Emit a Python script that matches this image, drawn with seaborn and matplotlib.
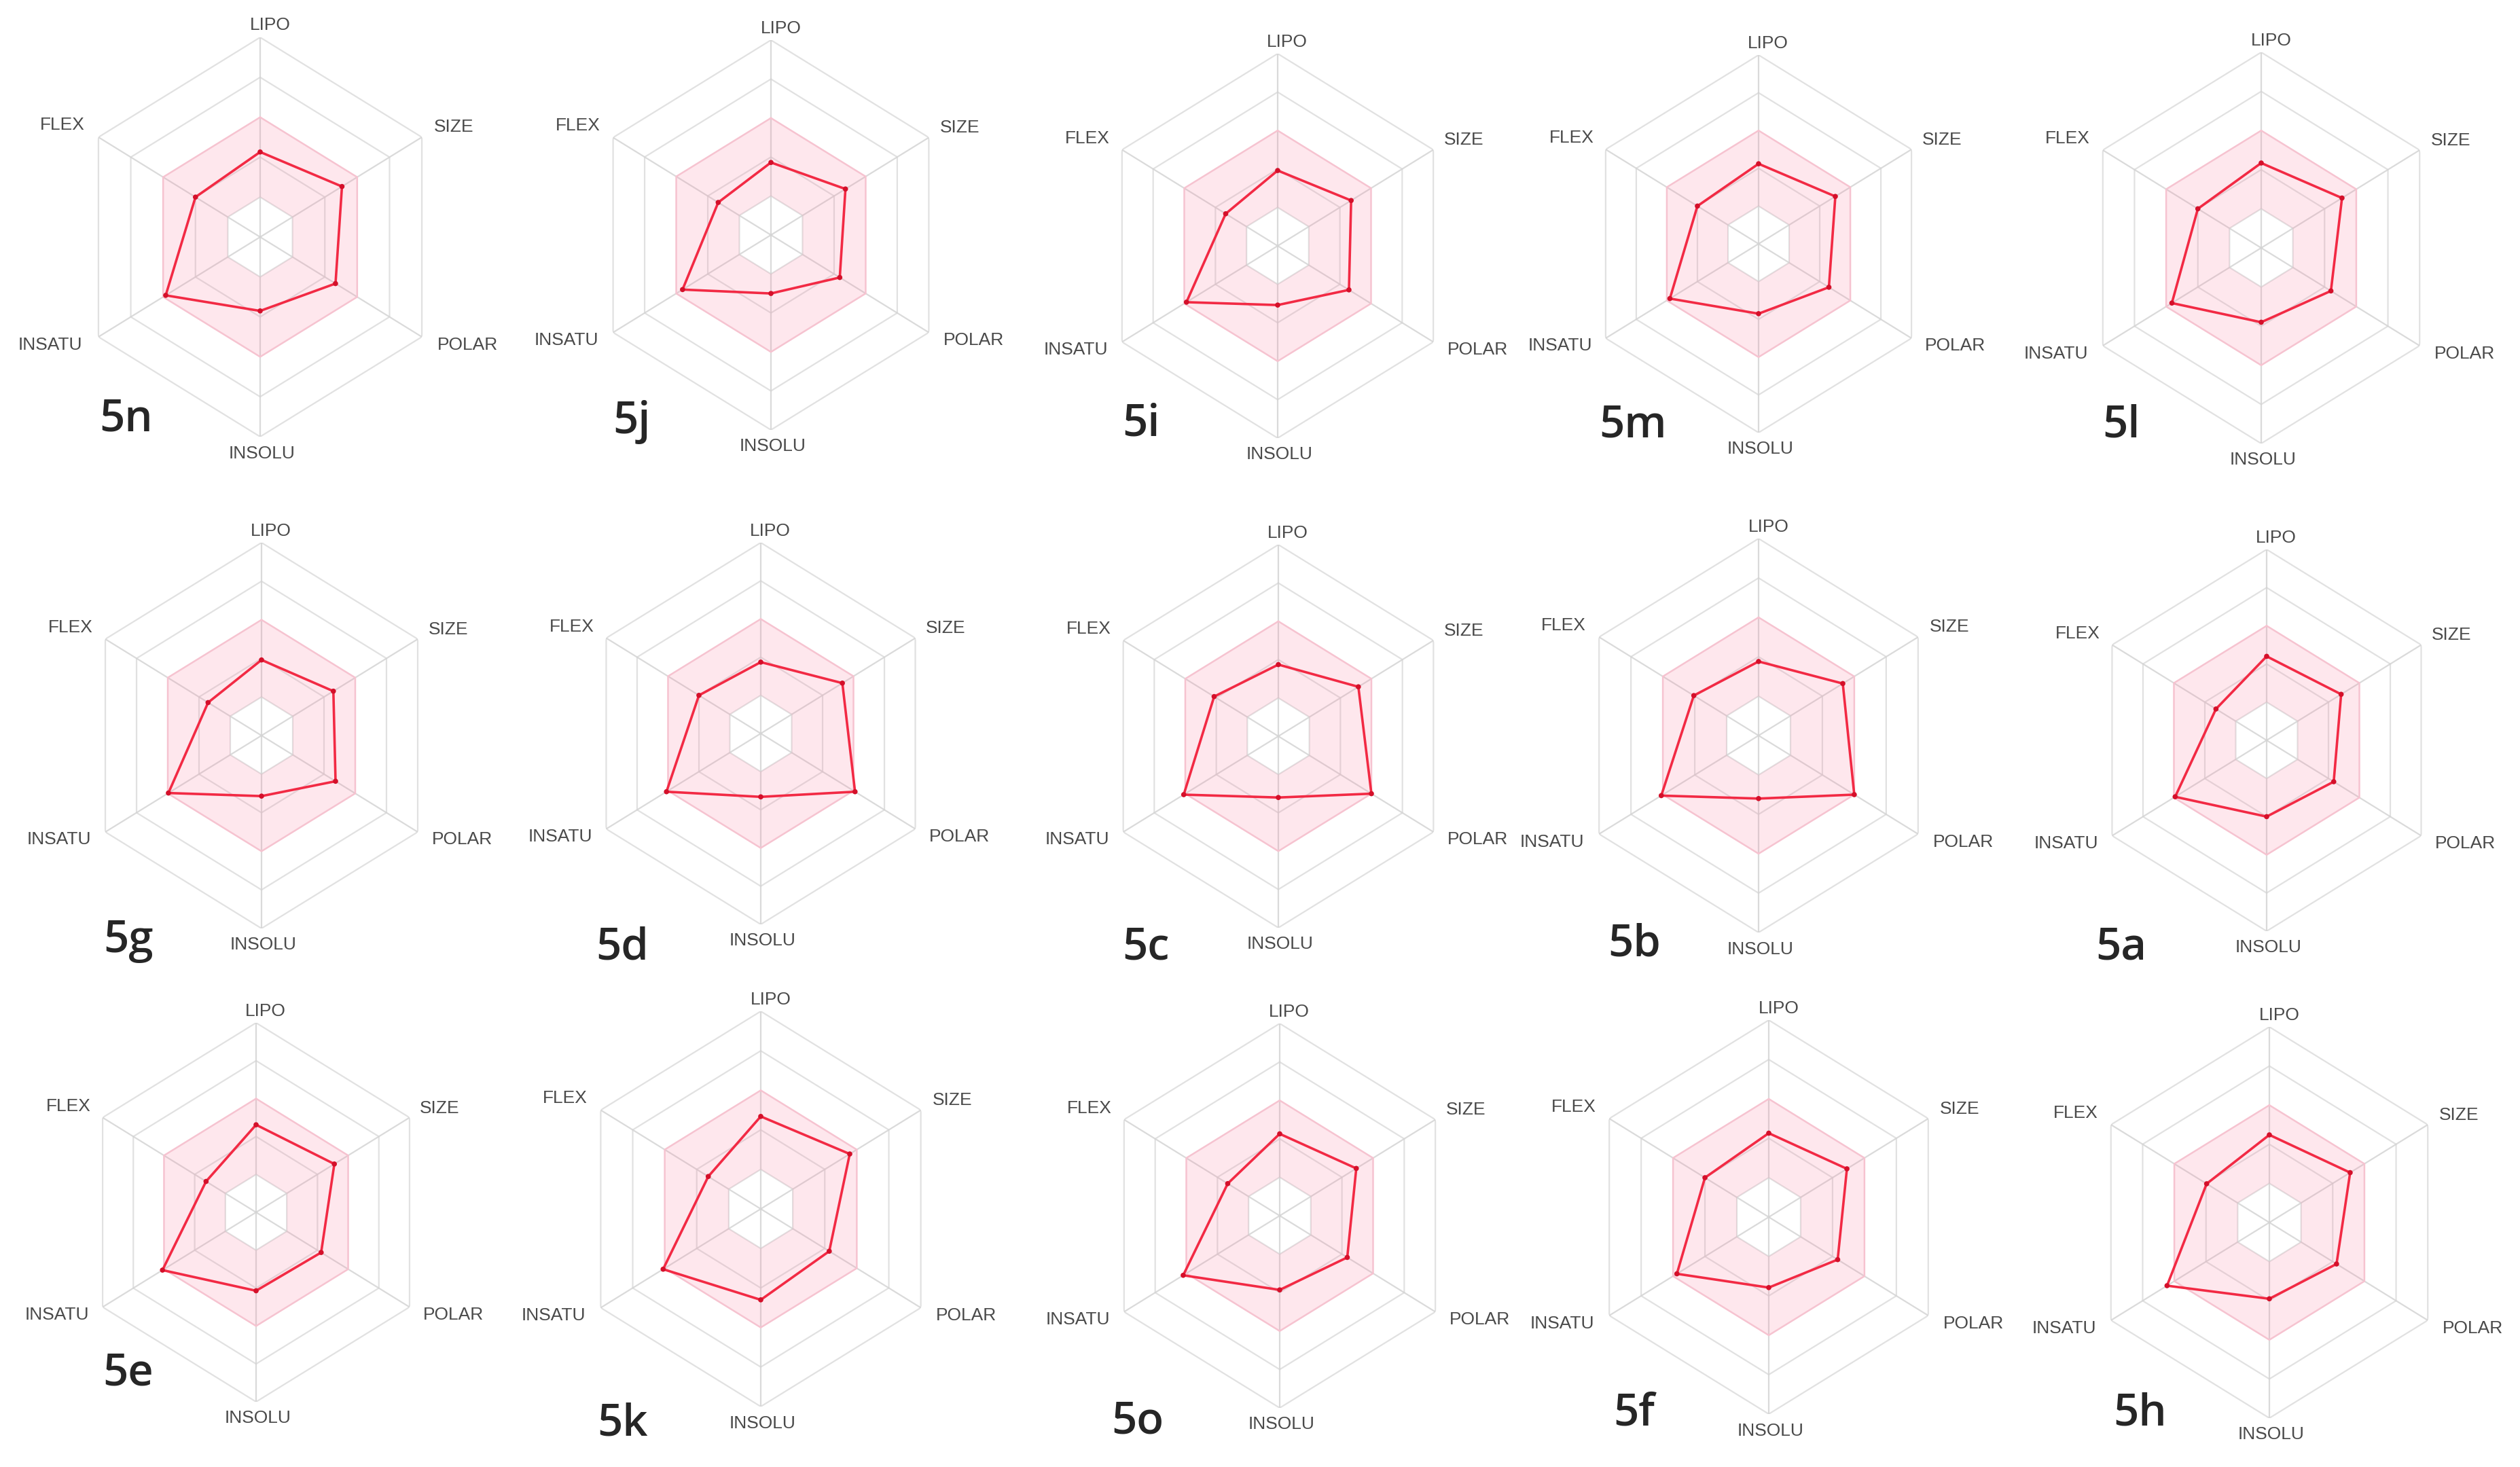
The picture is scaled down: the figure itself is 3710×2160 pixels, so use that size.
import numpy as np
import matplotlib
matplotlib.use("Agg")
import matplotlib.pyplot as plt
import seaborn as sns

# bioavailability radar scores (0-5 scale, pink band = optimal range 1..3)
axis_names = ["LIPO", "SIZE", "POLAR", "INSOLU", "INSATU", "FLEX"]
compounds = ["5n", "5j", "5i", "5m", "5l",
             "5g", "5d", "5c", "5b", "5a",
             "5e", "5k", "5o", "5f", "5h"]
lipo   = [2.13, 1.86, 1.96, 2.12, 2.17, 1.96, 1.87, 1.87, 1.88, 2.20, 2.31, 2.34, 2.13, 2.13, 2.24]
size   = [2.53, 2.36, 2.36, 2.51, 2.55, 2.30, 2.64, 2.58, 2.64, 2.41, 2.55, 2.78, 2.46, 2.45, 2.55]
polar  = [2.33, 2.18, 2.29, 2.30, 2.20, 2.37, 3.05, 3.00, 3.00, 2.17, 2.12, 2.14, 2.17, 2.16, 2.12]
insolu = [1.85, 1.50, 1.54, 1.85, 1.90, 1.57, 1.66, 1.60, 1.60, 2.00, 2.07, 2.30, 1.93, 1.79, 1.95]
insatu = [2.92, 2.80, 2.93, 2.90, 2.82, 2.98, 3.05, 3.05, 3.05, 2.96, 3.05, 3.05, 3.10, 2.88, 3.23]
flex   = [2.00, 1.67, 1.67, 2.00, 2.00, 1.71, 2.00, 2.07, 2.03, 1.64, 1.63, 1.64, 1.67, 2.00, 1.98]

# layout of the collage (pixels): radar centre, outer radius, id label position
centre_x = [383, 1135, 1881, 2589, 3329, 385, 1120, 1882, 2589, 3337, 377, 1120, 1884, 2604, 3341]
centre_y = [349, 346, 362, 359, 365, 1083, 1080, 1084, 1083, 1090, 1785, 1780, 1790, 1792, 1800]
radius   = [294, 287, 283, 278, 288, 284, 281, 282, 290, 281, 279, 291, 283, 290, 288]
tag_x    = [186, 930, 1680, 2404, 3123, 189, 916, 1687, 2406, 3123, 189, 917, 1675, 2406, 3151]
tag_y    = [618, 622, 625, 627, 627, 1386, 1396, 1396, 1391, 1396, 2023, 2097, 2094, 2082, 2082]

W, H = 3710, 2160
SQUEEZE = 0.935  # radars in the source images are slightly narrower than tall

sns.set_theme(style="white")
label_font = ["Liberation Sans Narrow", "Liberation Sans", "DejaVu Sans"]

fig = plt.figure(figsize=(W / 100, H / 100), dpi=100, facecolor="white")

theta = np.deg2rad(np.arange(0, 360, 60))
theta_closed = np.append(theta, 2 * np.pi)

# label offsets in units of the outer radius (x right, y down)
label_off = {"LIPO": (0.05, -1.06), "SIZE": (0.97, -0.55), "POLAR": (1.04, 0.54),
             "INSOLU": (0.01, 1.085), "INSATU": (-1.05, 0.54), "FLEX": (-0.99, -0.56)}

for i, name in enumerate(compounds):
    cx, cy, R = centre_x[i], centre_y[i], radius[i]
    rect = [(cx - SQUEEZE * R) / W, 1 - (cy + R) / H, 2 * SQUEEZE * R / W, 2 * R / H]
    ax = fig.add_axes(rect, projection="polar")
    ax.set_aspect("auto")
    ax.set_theta_zero_location("N")
    ax.set_theta_direction(-1)
    ax.patch.set_alpha(0)
    ax.grid(False)
    ax.spines["polar"].set_visible(False)
    ax.set_xticks([])
    ax.set_yticks([])

    # hexagonal grid and spokes
    for lvl in [1, 2, 4, 5]:
        ax.plot(theta_closed, [lvl] * 7, color="#dadada", lw=1.6, alpha=0.8, zorder=1)
    for t in theta:
        ax.plot([t, t], [0, 5], color="#d4d4d4", lw=1.6, alpha=0.85, zorder=1)

    # optimal pink band between levels 1 and 3 (semi-transparent, grid shows through)
    ring = np.concatenate([theta_closed, theta_closed[::-1]])
    ring_r = [3] * 7 + [1] * 7
    ax.fill(ring, ring_r, color="#fb7fa0", alpha=0.18, zorder=2, lw=0)
    ax.plot(theta_closed, [3] * 7, color="#f6c3d0", lw=1.8, zorder=2)

    vals = [lipo[i], size[i], polar[i], insolu[i], insatu[i], flex[i]]
    vals_closed = vals + [vals[0]]
    sns.lineplot(x=theta_closed, y=vals_closed, sort=False, estimator=None,
                 color="#f22a44", lw=2.6, ax=ax, zorder=4)
    sns.scatterplot(x=theta, y=vals, color="#d4102a", s=30, edgecolor="none",
                    ax=ax, zorder=5)
    ax.set_xlabel("")
    ax.set_ylabel("")
    ax.set_ylim(0, 5)

    for lab in axis_names:
        dx, dy = label_off[lab]
        ax.text(0.5 + dx / (2 * SQUEEZE), 0.5 - dy / 2, lab, transform=ax.transAxes,
                ha="center", va="center", fontsize=19, color="#4a4a4a",
                family=label_font)

    fig.text(tag_x[i] / W, 1 - tag_y[i] / H, name, ha="center", va="center",
             fontsize=47, fontweight="semibold", color="#262626",
             family=["Open Sans", "DejaVu Sans"])

fig.savefig("out.png", dpi=100, facecolor="white")
